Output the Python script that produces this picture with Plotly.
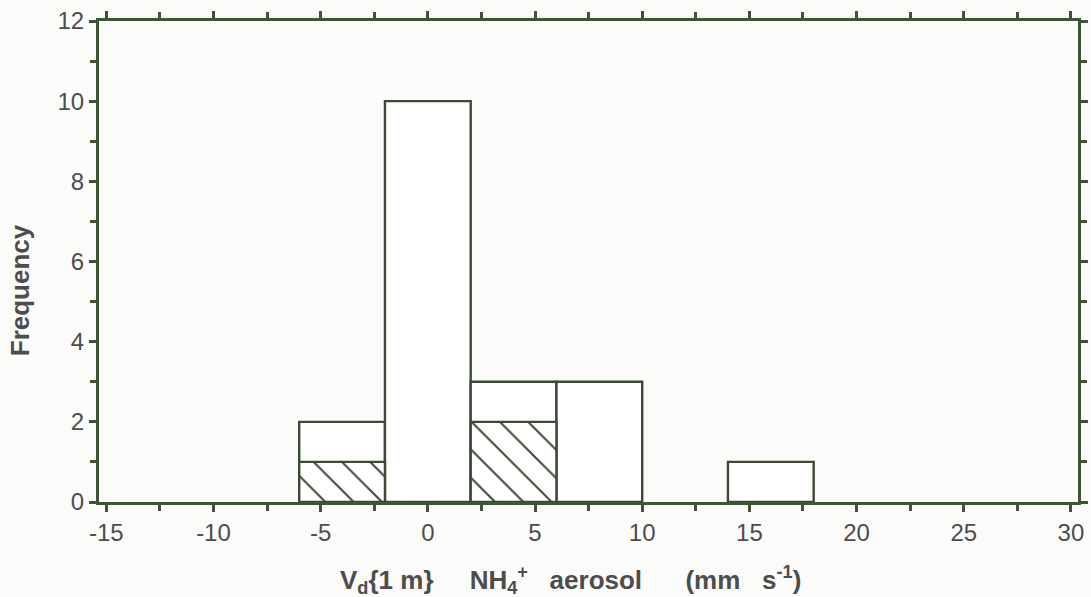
import plotly.graph_objects as go

# Histogram of deposition velocity, 4 mm/s bins
bin_centers = [-4, 0, 4, 8, 16]
total_counts = [2, 10, 3, 3, 1]
sub_centers = [-4, 4]
sub_counts = [1, 2]
bin_width = 4

x_ticks = [-15, -10, -5, 0, 5, 10, 15, 20, 25, 30]
y_ticks = [0, 2, 4, 6, 8, 10, 12]

line_col = "#3e5536"
edge_col = "#3a4a34"
text_col = "#4d4d4d"
bg = "#fbfbf9"

W, H = 1091, 597
ML, MR, MT, MB = 99, 13, 20.5, 95
PW, PH = W - ML - MR, H - MT - MB

fig = go.Figure()
fig.add_trace(go.Bar(
    x=bin_centers, y=total_counts, width=[bin_width] * len(bin_centers),
    marker=dict(color="white", line=dict(color=edge_col, width=2.4)),
    showlegend=False,
))
fig.add_trace(go.Bar(
    x=sub_centers, y=sub_counts, width=[bin_width] * len(sub_centers),
    marker=dict(color="white", line=dict(color=edge_col, width=2.4),
                pattern=dict(shape="\\", fgcolor=edge_col, fgopacity=1, bgcolor="white",
                             size=20, solidity=0.1)),
    showlegend=False,
))

font_fam = "Liberation Sans, Arial, sans-serif"
tick_font = dict(family=font_fam, size=24, color=text_col)
sp = "&nbsp;"

x_title = ("<b>V<sub>d</sub>{1 m}" + sp * 5 + "NH<sub>4</sub><sup>+</sup>" + sp * 3
           + "aerosol" + sp * 6 + "(mm" + sp * 3 + "s<sup>-1</sup>)</b>")


def px_to_paper(px, py):
    return (px - ML) / PW, (H - MB - py) / PH


xt_x, xt_y = px_to_paper(570, 580)
yt_x, yt_y = px_to_paper(20, 290)

fig.add_annotation(
    text=x_title, xref="paper", yref="paper", x=xt_x, y=xt_y,
    xanchor="center", yanchor="middle", showarrow=False,
    font=dict(family=font_fam, size=26, color=text_col),
)
fig.add_annotation(
    text="<b>Frequency</b>", xref="paper", yref="paper", x=yt_x, y=yt_y,
    xanchor="center", yanchor="middle", showarrow=False, textangle=-90,
    font=dict(family=font_fam, size=26, color=text_col),
)

axis_common = dict(
    ticks="outside", ticklen=7, tickwidth=2.5, tickcolor=line_col,
    showline=True, linecolor=line_col, linewidth=3, mirror="ticks",
    showgrid=False, zeroline=False, tickfont=tick_font, automargin=False,
)

fig.update_layout(
    template="none",
    barmode="overlay",
    width=W, height=H,
    margin=dict(l=ML, r=MR, t=MT, b=MB, autoexpand=False),
    paper_bgcolor=bg, plot_bgcolor=bg,
    xaxis=dict(
        range=[-15.34, 30.33], tickvals=x_ticks, ticktext=[str(v) for v in x_ticks],
        minor=dict(ticks="outside", dtick=2.5, tick0=0, ticklen=6, tickwidth=2.5, tickcolor=line_col),
        **axis_common,
    ),
    yaxis=dict(
        range=[0, 12], tickvals=y_ticks, ticktext=[str(v) for v in y_ticks],
        minor=dict(ticks="outside", dtick=1, tick0=0, ticklen=6, tickwidth=2.5, tickcolor=line_col),
        **axis_common,
    ),
)

fig.write_html("out.html")
